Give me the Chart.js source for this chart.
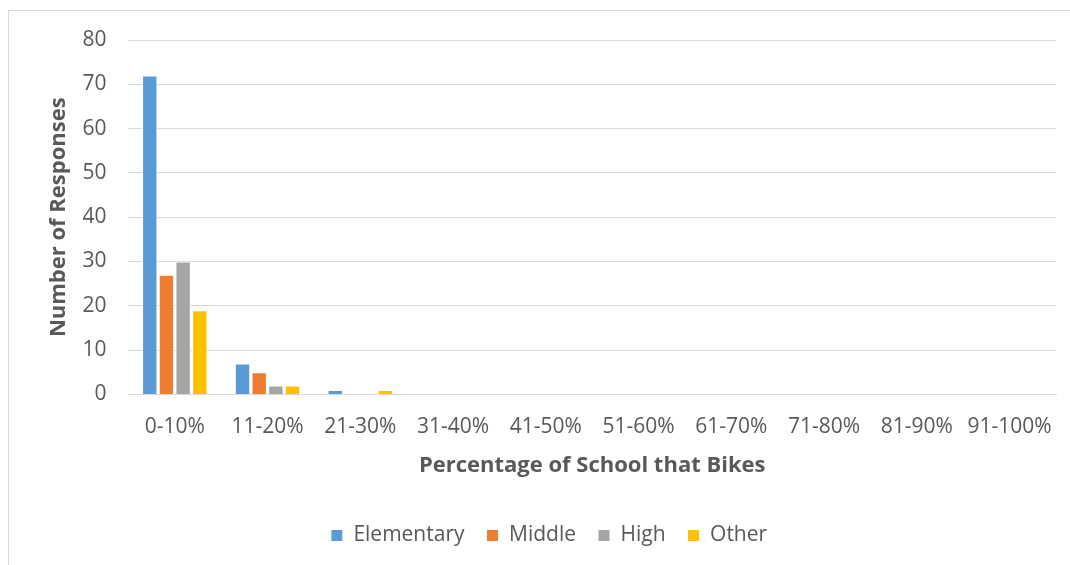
<!DOCTYPE html>
<html lang="en">
<head>
    <meta charset="UTF-8">
    <title>Percentage of School that Bikes</title>
    <script src="https://cdn.jsdelivr.net/npm/chart.js"></script>
    <style>
        body { margin: 0; background: #fff; overflow: hidden; }
        #frame {
            position: absolute;
            left: 8px;
            top: 10px;
            width: 1080px;
            height: 580px;
            border: 1px solid #d9d9d9;
        }
    </style>
</head>
<body>
    <div id="frame">
        <canvas id="chart" width="1062" height="556"></canvas>
    </div>

    <script>
        const categories = ['0-10%', '11-20%', '21-30%', '31-40%', '41-50%', '51-60%', '61-70%', '71-80%', '81-90%', '91-100%'];
        const elementary = [72, 7, 1, 0, 0, 0, 0, 0, 0, 0];
        const middle     = [27, 5, 0, 0, 0, 0, 0, 0, 0, 0];
        const high       = [30, 2, 0, 0, 0, 0, 0, 0, 0, 0];
        const other      = [19, 2, 1, 0, 0, 0, 0, 0, 0, 0];
        const yTicks = [0, 10, 20, 30, 40, 50, 60, 70, 80];

        const fontFamily = "'Open Sans', 'Liberation Sans', sans-serif";
        const textColor = '#595959';
        const gridColor = '#d9d9d9';

        function series(label, data, color) {
            return {
                label: label,
                data: data,
                backgroundColor: color,
                borderColor: '#ffffff',
                borderWidth: 1,
                categoryPercentage: 0.72,
                barPercentage: 0.92
            };
        }

        new Chart(document.getElementById('chart'), {
            type: 'bar',
            data: {
                labels: categories,
                datasets: [
                    series('Elementary', elementary, '#5b9bd5'),
                    series('Middle', middle, '#ed7d31'),
                    series('High', high, '#a5a5a5'),
                    series('Other', other, '#ffc000')
                ]
            },
            options: {
                responsive: false,
                animation: false,
                layout: { padding: { top: 29, right: 15, bottom: 11, left: 33 } },
                plugins: {
                    tooltip: { enabled: false },
                    legend: {
                        position: 'bottom',
                        labels: {
                            color: textColor,
                            font: { family: fontFamily, size: 21 },
                            boxWidth: 12,
                            boxHeight: 12,
                            padding: 22
                        }
                    }
                },
                scales: {
                    x: {
                        grid: { display: false },
                        border: { color: gridColor },
                        ticks: {
                            color: textColor,
                            font: { family: fontFamily, size: 21 },
                            maxRotation: 0,
                            padding: 12
                        },
                        title: {
                            display: true,
                            text: 'Percentage of School that Bikes',
                            color: textColor,
                            font: { family: fontFamily, size: 22, weight: 'bold' },
                            padding: { top: 1, bottom: 24 }
                        }
                    },
                    y: {
                        min: 0,
                        max: 80,
                        afterBuildTicks: axis => { axis.ticks = yTicks.map(v => ({ value: v })); },
                        // invisible tick marks keep the labels clear of the plot
                        grid: { color: gridColor, tickLength: 18, tickColor: 'rgba(0,0,0,0)' },
                        border: { display: false },
                        ticks: {
                            color: textColor,
                            font: { family: fontFamily, size: 21 },
                            padding: 4
                        },
                        title: {
                            display: true,
                            text: 'Number of Responses',
                            color: textColor,
                            font: { family: fontFamily, size: 22, weight: 'bold' },
                            padding: { bottom: 6 }
                        }
                    }
                }
            }
        });
    </script>
</body>
</html>
